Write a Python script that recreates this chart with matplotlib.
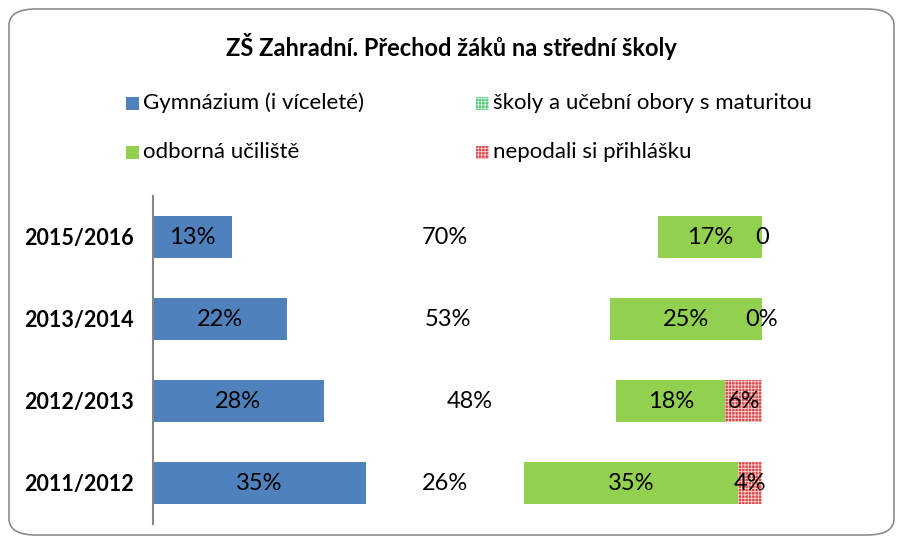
import matplotlib.pyplot as plt
from matplotlib.patches import FancyBboxPatch, Rectangle
import numpy as np

plt.rcParams['font.family'] = ['Lato', 'DejaVu Sans']
plt.rcParams['hatch.linewidth'] = 0.6

# data
roky = ['2011/2012', '2012/2013', '2013/2014', '2015/2016']
gymnazium = [35, 28, 22, 13]
maturita = [26, 48, 53, 70]
uciliste = [35, 18, 25, 17]
nepodali = [4, 6, 0, 0]
nepodali_popisky = ['4%', '6%', '0%', '0']

serie = ['Gymnázium (i víceleté)', 'školy a učební obory s maturitou',
         'odborná učiliště', 'nepodali si přihlášku']

fig = plt.figure(figsize=(9.03, 5.44), dpi=100)

# rounded frame
ram = FancyBboxPatch((9 / 903, 9 / 544), 885 / 903, 526 / 544,
                     boxstyle='round,pad=0,rounding_size=0.03',
                     transform=fig.transFigure, facecolor='white',
                     edgecolor='#8c8c8c', linewidth=1.2, zorder=-5)
fig.patches.append(ram)

fig.text(0.5, 1 - 46 / 544, 'ZŠ Zahradní. Přechod žáků na střední školy',
         ha='center', va='center', fontsize=17, fontweight='bold')

ax = fig.add_axes([153 / 903, 20 / 544, 609 / 903, 328 / 544], zorder=2)
ax.patch.set_alpha(0)

y = np.arange(len(roky))
h = 0.51
left = np.zeros(len(roky))

b1 = ax.barh(y, gymnazium, h, left=left, color='#4f81bd', linewidth=0)
left += gymnazium
b2 = ax.barh(y, maturita, h, left=left, color='none', linewidth=0)
left += maturita
b3 = ax.barh(y, uciliste, h, left=left, color='#92d050', linewidth=0)
left += uciliste
b4 = ax.barh(y, nepodali, h, left=left, facecolor='#dc4a4a', hatch='+++++',
             edgecolor='#f8d4d4', linewidth=0)

for bars, vals in [(b1, gymnazium), (b2, maturita), (b3, uciliste)]:
    for r, v in zip(bars, vals):
        ax.text(r.get_x() + r.get_width() / 2, r.get_y() + r.get_height() / 2,
                f'{v}%', ha='center', va='center', fontsize=17)
for r, t in zip(b4, nepodali_popisky):
    ax.text(r.get_x() + r.get_width() / 2, r.get_y() + r.get_height() / 2,
            t, ha='center', va='center', fontsize=17)

ax.set_xlim(0, 100)
ax.set_ylim(-0.5, 3.5)
ax.set_yticks(y)
ax.set_yticklabels(roky, fontsize=15.5, fontweight='bold')
ax.tick_params(axis='y', length=0, pad=14)
ax.set_xticks([])
for s in ['top', 'right', 'bottom']:
    ax.spines[s].set_visible(False)
ax.spines['left'].set_color('#868686')
ax.spines['left'].set_linewidth(1.5)

# legend
leg_pos = [(126, 103), (476, 103), (126, 152), (476, 152)]
leg_style = [dict(facecolor='#4f81bd'),
             dict(facecolor='#4cc878', hatch='+++++', edgecolor='#e0f5e8'),
             dict(facecolor='#92d050'),
             dict(facecolor='#dc4a4a', hatch='+++++', edgecolor='#f8d4d4')]
for (px, py), st, name in zip(leg_pos, leg_style, serie):
    fig.patches.append(Rectangle((px / 903, 1 - (py + 7) / 544), 13 / 903, 13 / 544,
                                 transform=fig.transFigure, linewidth=0, **st))
    fig.text((px + 17) / 903, 1 - py / 544, name, ha='left', va='center', fontsize=16)

fig.savefig('out.png', dpi=100)
